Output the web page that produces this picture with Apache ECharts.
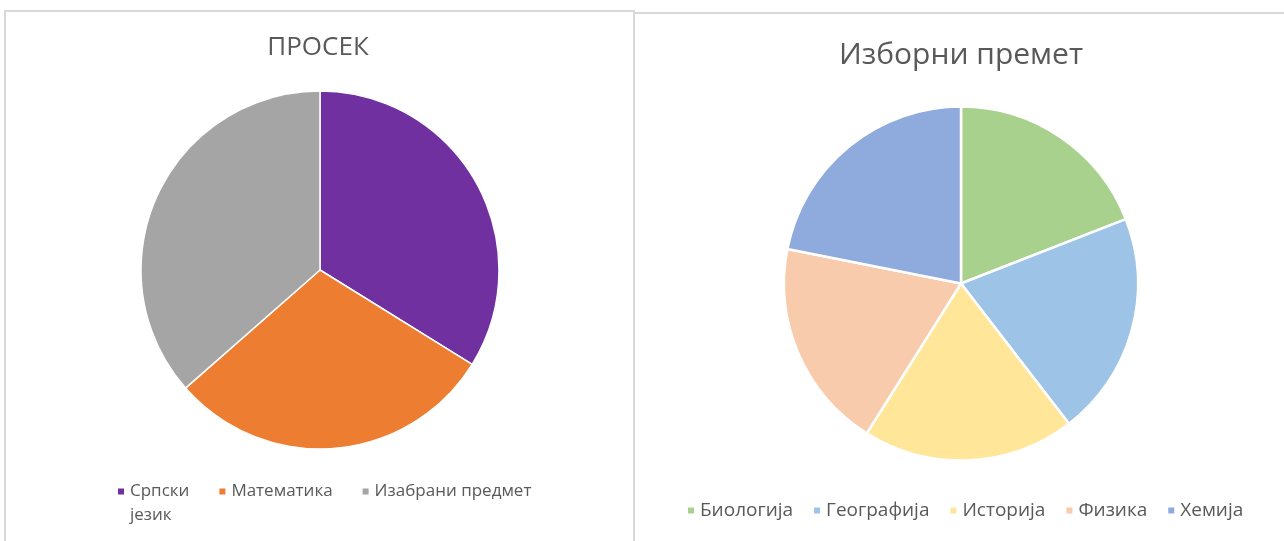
<!DOCTYPE html>
<html>
<head>
<meta charset="utf-8">
<script src="https://cdn.jsdelivr.net/npm/echarts@6/dist/echarts.min.js"></script>
<style>
  html, body { margin: 0; padding: 0; background: #ffffff; }
  body { width: 1284px; height: 541px; position: relative; overflow: hidden; }
  .panel { position: absolute; box-sizing: border-box; background: #ffffff; }
  #p1 { left: 4px; top: 10px; width: 631px; height: 560px; border: 2px solid #d9d9d9; }
  #p2 { left: 633px; top: 12px; width: 700px; height: 560px; border: 2px solid #d9d9d9; }
  #chart { position: absolute; left: 0; top: 0; width: 1284px; height: 541px; }
</style>
</head>
<body>
<div class="panel" id="p1"></div>
<div class="panel" id="p2"></div>
<div id="chart"></div>
<script>
// ---- data ----
const title1 = 'ПРОСЕК';
const categories1 = ['Српски језик', 'Математика', 'Изабрани предмет'];
const values1 = [4.1, 3.6, 4.42];
const colors1 = ['#7030A0', '#ED7D31', '#A5A5A5'];

const title2 = 'Изборни премет';
const categories2 = ['Биологија', 'Географија', 'Историја', 'Физика', 'Хемија'];
const values2 = [19.1, 20.5, 19.4, 19.2, 21.9];
const colors2 = ['#A9D18E', '#9DC3E6', '#FFE699', '#F8CBAD', '#8FAADC'];

const FONT = '"Open Sans", "Noto Sans", sans-serif';
const TXT = '#595959';

const chart = echarts.init(document.getElementById('chart'), null, { renderer: 'canvas' });

chart.setOption({
  animation: false,
  backgroundColor: 'transparent',
  title: [
    { text: title1, left: 313, top: 30, textAlign: 'center',
      textStyle: { fontFamily: FONT, fontSize: 26, fontWeight: 'normal', color: TXT } },
    { text: title2, left: 956, top: 35, textAlign: 'center',
      textStyle: { fontFamily: FONT, fontSize: 30, fontWeight: 'normal', color: TXT } }
  ],
  legend: [
    {
      seriesIndex: 0,
      data: categories1,
      left: 116, top: 455.5, padding: 0,
      itemWidth: 8, itemHeight: 8, itemGap: 28,
      icon: 'rect',
      selectedMode: false,
      // Excel wraps the first entry onto two lines; a blank leading line keeps
      // the first text line level with the marker and the other entries.
      formatter: function (name) { return name === 'Српски језик' ? ' \nСрпски\nјезик' : name; },
      textStyle: { fontFamily: FONT, fontSize: 17, lineHeight: 24, color: TXT }
    },
    {
      data: categories2,
      left: 686, top: 501, padding: 0,
      itemWidth: 8, itemHeight: 8, itemGap: 19,
      icon: 'rect',
      selectedMode: false,
      textStyle: { fontFamily: FONT, fontSize: 19, color: TXT }
    }
  ],
  series: [
    {
      type: 'pie',
      center: [320, 270],
      radius: [0, 179],
      startAngle: 90,
      clockwise: true,
      label: { show: false },
      labelLine: { show: false },
      emphasis: { disabled: true },
      itemStyle: { borderColor: '#ffffff', borderWidth: 1.5 },
      data: categories1.map(function (n, i) { return { name: n, value: values1[i], itemStyle: { color: colors1[i] } }; })
    },
    {
      type: 'pie',
      center: [961, 283.5],
      radius: [0, 177],
      startAngle: 90,
      clockwise: true,
      label: { show: false },
      labelLine: { show: false },
      emphasis: { disabled: true },
      itemStyle: { borderColor: '#ffffff', borderWidth: 2.5 },
      data: categories2.map(function (n, i) { return { name: n, value: values2[i], itemStyle: { color: colors2[i] } }; })
    }
  ]
});
</script>
</body>
</html>
